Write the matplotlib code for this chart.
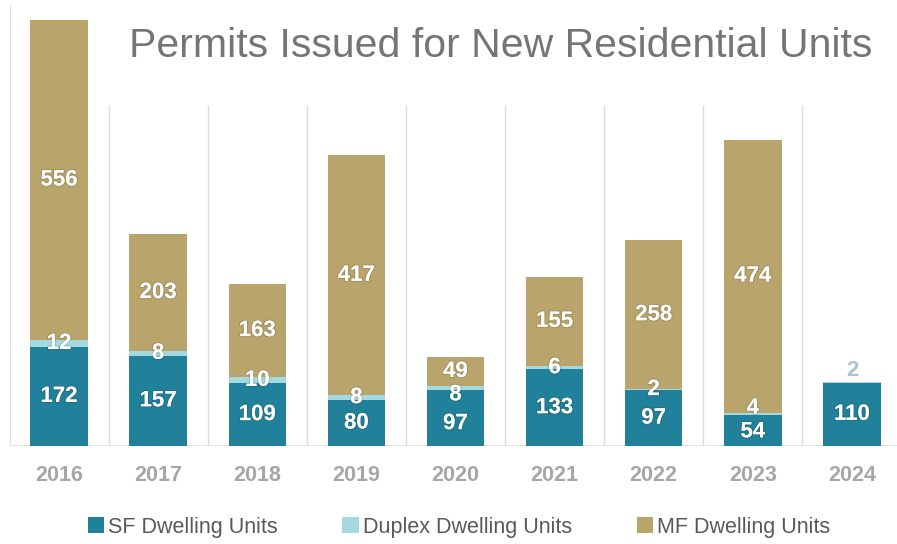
import matplotlib
matplotlib.use("Agg")
import matplotlib.pyplot as plt
import matplotlib.patheffects as pe
import numpy as np

plt.rcParams['font.family'] = ['Liberation Sans', 'DejaVu Sans']

years = ["2016", "2017", "2018", "2019", "2020", "2021", "2022", "2023", "2024"]
sf_units = [172, 157, 109, 80, 97, 133, 97, 54, 110]
duplex_units = [12, 8, 10, 8, 8, 6, 2, 4, 2]
mf_units = [556, 203, 163, 417, 49, 155, 258, 474, 0]

SF_COLOR = "#21809a"
DUPLEX_COLOR = "#a3d9df"
MF_COLOR = "#b9a56b"
GRID_COLOR = "#dcdcdc"

W, H = 897, 544
fig = plt.figure(figsize=(W / 100, H / 100), dpi=100)
fig.patch.set_facecolor("white")

# axes spans the plot area; baseline sits 446 px from the top
left_px, right_px = 9.5, 901.5
base_px, top_px = 446, 5
ax = fig.add_axes([left_px / W, (H - base_px) / H,
                   (right_px - left_px) / W, (base_px - top_px) / H])
ax.set_xlim(-0.5, len(years) - 0.5)
ax.set_ylim(0, 766)

x = np.arange(len(years))
width = 0.58
sf = np.array(sf_units)
dup = np.array(duplex_units)
mf = np.array(mf_units)

ax.bar(x, sf, width, color=SF_COLOR, label="SF Dwelling Units", zorder=3)
ax.bar(x, dup, width, bottom=sf, color=DUPLEX_COLOR,
       label="Duplex Dwelling Units", zorder=3)
ax.bar(x, mf, width, bottom=sf + dup, color=MF_COLOR,
       label="MF Dwelling Units", zorder=3)

# category separators and frame lines
ax.vlines(np.arange(len(years) - 1) + 0.5, 0, 592, color=GRID_COLOR,
          lw=1.0, zorder=1)
ax.vlines([-0.5], 0, 766, color=GRID_COLOR, lw=1.2, zorder=1)
ax.axhline(0, color=GRID_COLOR, lw=1.2, zorder=2)

for s in ax.spines.values():
    s.set_visible(False)
ax.set_yticks([])
ax.set_xticks(x)
ax.set_xticklabels(years, fontsize=15.5, fontweight="bold", color="#a6a6a6")
ax.tick_params(axis="x", length=0, pad=14)

shadow = [pe.withStroke(linewidth=1.6, foreground=(0, 0, 0, 0.12))]
lab_kw = dict(ha="center", va="center", fontsize=16, fontweight="bold",
              color="white", zorder=5, path_effects=shadow)

# small vertical nudges (points) where stacked labels would collide
nudge = {("sf", 4): -4, ("dup", 4): -5, ("dup", 7): 4, ("sf", 7): -1}


def put(kind, i, y, text, **extra):
    kw = dict(lab_kw)
    kw.update(extra)
    ax.annotate(text, (x[i], y), xytext=(0, nudge.get((kind, i), 0)),
                textcoords="offset points", **kw)


for i in range(len(years)):
    put("sf", i, sf[i] / 2, str(sf[i]))
    if mf[i] > 0:
        put("dup", i, sf[i] + dup[i] / 2, str(dup[i]))
        put("mf", i, sf[i] + dup[i] + mf[i] / 2, str(mf[i]))
    else:
        put("dup", i, sf[i] + dup[i] + 20, str(dup[i]),
            color="#a9c4d0", path_effects=[])

fig.text(501 / W, 1 - 46 / H, "Permits Issued for New Residential Units",
         ha="center", va="center", fontsize=29.5, color="#757575")

handles, labels = ax.get_legend_handles_labels()
leg = fig.legend(handles, labels, loc="center", ncol=3,
                 bbox_to_anchor=(459 / W, 1 - 527 / H), frameon=False,
                 fontsize=15.5, handlelength=0.75, handleheight=0.75,
                 handletextpad=0.2, columnspacing=3.0)
for t in leg.get_texts():
    t.set_color("#595959")

fig.savefig("out.png", dpi=100, facecolor="white")
